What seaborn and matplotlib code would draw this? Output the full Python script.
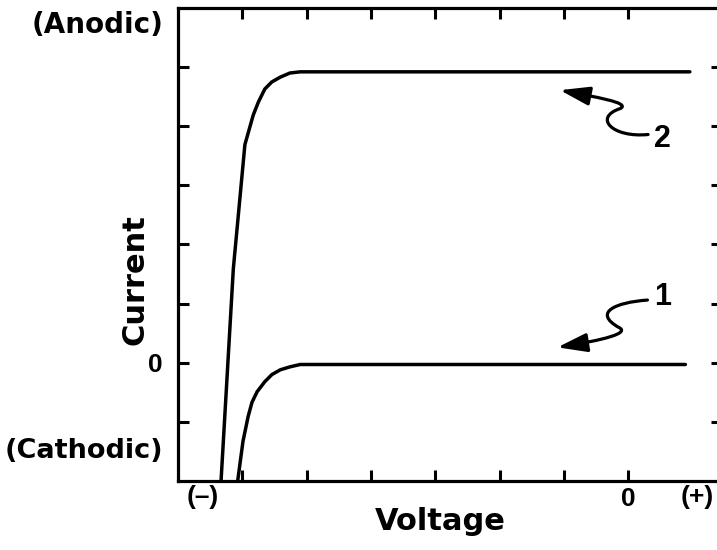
import numpy as np
import pandas as pd
import matplotlib
matplotlib.use("Agg")
import matplotlib.pyplot as plt
from matplotlib.path import Path
from matplotlib.patches import FancyArrowPatch
import seaborn as sns

# Polarization curves (voltage in tick units, 0 = reference potential)
volt_1 = [-6.08, -6.07, -5.99, -5.91, -5.85, -5.77, -5.65, -5.54, -5.41, -5.26, -5.10, 0.89]
curr_1 = [-2.20, -1.98, -1.33, -0.91, -0.67, -0.49, -0.32, -0.20, -0.12, -0.07, -0.03, -0.03]

volt_2 = [-6.34, -6.33, -6.14, -5.96, -5.83, -5.75, -5.65, -5.54, -5.41, -5.26, -5.10, 0.96]
curr_2 = [-2.20, -1.98, 1.59, 3.69, 4.19, 4.41, 4.63, 4.75, 4.83, 4.90, 4.92, 4.92]

x_ticks = [-6, -5, -4, -3, -2, -1, 0]
x_tick_labels = ["", "", "", "", "", "", "0"]
y_ticks = [-1, 0, 1, 2, 3, 4, 5]
y_tick_labels = ["", "0", "", "", "", "", ""]

sns.set_style("ticks")
plt.rcParams["font.family"] = ["Liberation Sans", "DejaVu Sans"]
plt.rcParams["font.weight"] = "bold"
for key in ("text.color", "axes.labelcolor", "xtick.color", "ytick.color",
            "axes.edgecolor"):
    plt.rcParams[key] = "black"

WIDE = "DejaVu Sans"
NARROW = "Liberation Sans"

fig = plt.figure(figsize=(7.17, 5.5), dpi=100)
ax = fig.add_axes([0.2483, 0.1255, 0.7587, 0.86])

df1 = pd.DataFrame({"Voltage": volt_1, "Current": curr_1})
df2 = pd.DataFrame({"Voltage": volt_2, "Current": curr_2})
for df in (df1, df2):
    sns.lineplot(data=df, x="Voltage", y="Current", sort=False, ax=ax,
                 color="black", linewidth=2.5, solid_capstyle="round",
                 solid_joinstyle="round")

ax.set_xlim(-7, 1.46)
ax.set_ylim(-2, 6)

ax.set_xticks(x_ticks)
ax.set_xticklabels(x_tick_labels)
ax.set_yticks(y_ticks)
ax.set_yticklabels(y_tick_labels)
ax.tick_params(direction="in", length=8, width=2.2, top=True, right=True,
               labelsize=19, pad=4)
ax.tick_params(axis="y", pad=11)
for lab in ax.get_xticklabels() + ax.get_yticklabels():
    lab.set_fontweight("bold")
    lab.set_family(NARROW)
for sp in ax.spines.values():
    sp.set_linewidth(2.3)
    sp.set_visible(True)

ax.set_xlabel("Voltage", fontsize=22, fontweight="bold", family=WIDE)
ax.xaxis.set_label_coords(0.4816, -0.055)
ax.set_ylabel("Current", fontsize=22, fontweight="bold", family=WIDE)
ax.yaxis.set_label_coords(-0.052, 0.425)

# End labels of the axes
ax.text(-0.027, 5.72, "(Anodic)", transform=ax.get_yaxis_transform(),
        ha="right", va="center", fontsize=20, fontweight="bold", family=WIDE)
ax.text(-0.027, -1.49, "(Cathodic)", transform=ax.get_yaxis_transform(),
        ha="right", va="center", fontsize=19.5, fontweight="bold", family=WIDE)
ax.text(-6.61, -0.034, "(\u2013)", transform=ax.get_xaxis_transform(),
        ha="center", va="center", fontsize=19, fontweight="bold", family=NARROW)
ax.text(1.07, -0.034, "(+)", transform=ax.get_xaxis_transform(),
        ha="center", va="center", fontsize=19, fontweight="bold", family=NARROW)

# Curve labels with squiggly pointers
ax.text(0.54, 3.79, "2", ha="center", va="center", fontsize=22,
        fontweight="bold", family=NARROW)
ax.text(0.53, 1.12, "1", ha="center", va="center", fontsize=22,
        fontweight="bold", family=NARROW)

path2 = Path([(0.31, 3.86), (-0.25, 3.80), (-0.55, 4.15), (-0.12, 4.30),
              (0.05, 4.40), (-0.55, 4.50), (-1.06, 4.61)],
             [Path.MOVETO, Path.CURVE4, Path.CURVE4, Path.CURVE4,
              Path.CURVE4, Path.CURVE4, Path.CURVE4])
path1 = Path([(0.30, 1.06), (-0.20, 1.02), (-0.55, 0.85), (-0.15, 0.60),
              (0.05, 0.50), (-0.40, 0.38), (-1.10, 0.26)],
             [Path.MOVETO, Path.CURVE4, Path.CURVE4, Path.CURVE4,
              Path.CURVE4, Path.CURVE4, Path.CURVE4])
for p in (path2, path1):
    ax.add_patch(FancyArrowPatch(path=p, arrowstyle="-|>,head_length=1.2,head_width=0.38",
                                 mutation_scale=15, color="black", linewidth=2.3))

fig.savefig("out.png", dpi=100)
